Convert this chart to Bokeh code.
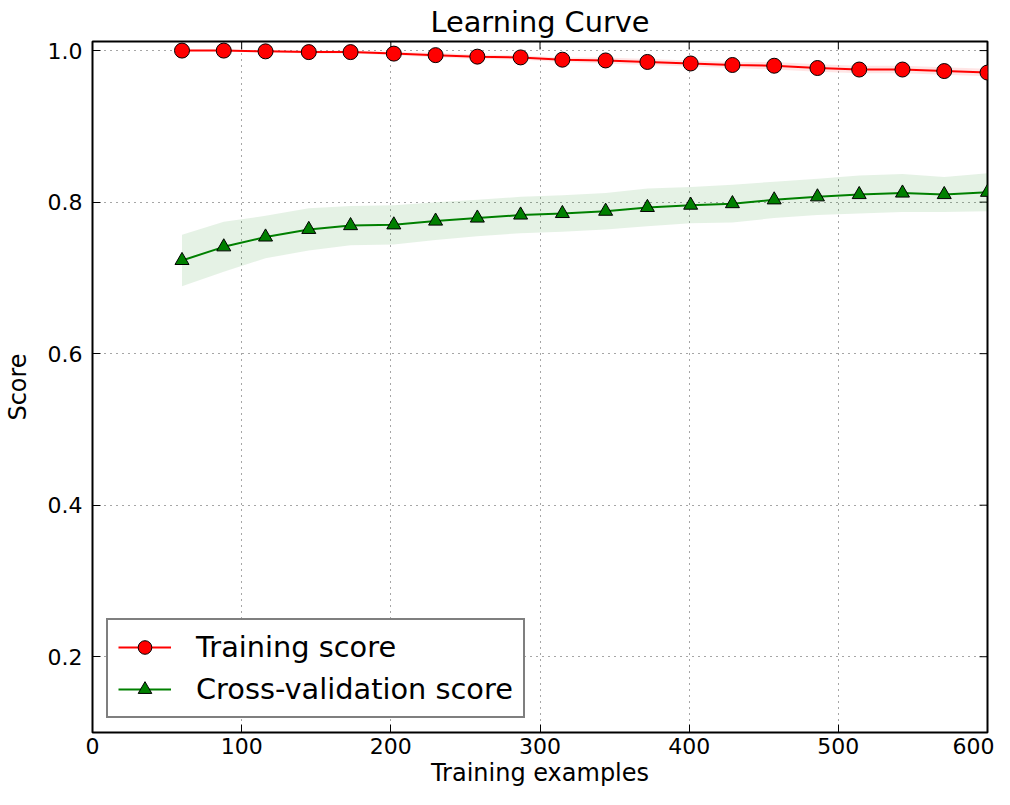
import math
from bokeh.plotting import figure
from bokeh.models import (Range1d, FixedTicker, PrintfTickFormatter,
                          Legend, LegendItem, ColumnDataSource)
from bokeh.embed import file_html
from bokeh.resources import INLINE

# ---- data ----
train_sizes = [60, 88, 116, 145, 173, 202, 230, 258, 287, 315,
               344, 372, 401, 429, 457, 486, 514, 543, 571, 600]
train_mean = [1.000, 1.000, 0.999, 0.998, 0.998, 0.996, 0.994, 0.992, 0.991, 0.988,
              0.987, 0.985, 0.983, 0.981, 0.980, 0.977, 0.975, 0.975, 0.973, 0.971]
train_std = [0.001, 0.001, 0.001, 0.002, 0.002, 0.002, 0.003, 0.003, 0.003, 0.003,
             0.004, 0.004, 0.004, 0.004, 0.005, 0.005, 0.005, 0.005, 0.005, 0.005]
test_mean = [0.723, 0.741, 0.754, 0.764, 0.769, 0.770, 0.775, 0.779, 0.783, 0.785,
             0.788, 0.793, 0.796, 0.798, 0.803, 0.807, 0.810, 0.812, 0.810, 0.813]
test_std = [0.034, 0.033, 0.028, 0.028, 0.026, 0.026, 0.025, 0.024, 0.024, 0.024,
            0.024, 0.025, 0.024, 0.025, 0.024, 0.024, 0.025, 0.025, 0.023, 0.025]
x_ticks = [0, 100, 200, 300, 400, 500, 600]
y_ticks = [0.2, 0.4, 0.6, 0.8, 1.0]
x_lim = (0, 600)
y_lim = (0.1, 1.012)

FONT = "DejaVu Sans"
RED = "#ff0000"
GREEN = "#008000"

src = ColumnDataSource(dict(
    x=train_sizes,
    tr=train_mean,
    tr_lo=[m - s for m, s in zip(train_mean, train_std)],
    tr_hi=[m + s for m, s in zip(train_mean, train_std)],
    te=test_mean,
    te_lo=[m - s for m, s in zip(test_mean, test_std)],
    te_hi=[m + s for m, s in zip(test_mean, test_std)],
))

p = figure(width=994, height=789, output_backend="svg", toolbar_location=None,
           x_range=Range1d(*x_lim), y_range=Range1d(*y_lim),
           min_border_left=85, min_border_right=7, min_border_top=33,
           min_border_bottom=53, title="Learning Curve")

p.title.text_font = FONT
p.title.text_font_size = "28.8px"
p.title.text_font_style = "normal"
p.title.text_color = "black"
p.title.align = "center"
p.title.standoff = 5

p.outline_line_color = "black"
p.outline_line_width = 2
p.background_fill_color = "white"
p.border_fill_color = "white"

# grid
for g in (p.xgrid, p.ygrid):
    g.grid_line_color = "black"
    g.grid_line_alpha = 0.7
    g.grid_line_dash = "1 5"
    g.grid_line_width = 1
p.xgrid.ticker = FixedTicker(ticks=x_ticks)
p.ygrid.ticker = FixedTicker(ticks=y_ticks)

def style_axis(ax, ticks, fmt):
    ax.ticker = FixedTicker(ticks=ticks)
    ax.axis_line_color = None
    ax.major_tick_in = 8
    ax.major_tick_out = 0
    ax.major_tick_line_color = "black"
    ax.major_tick_line_width = 1
    ax.minor_tick_line_color = None
    ax.formatter = PrintfTickFormatter(format=fmt)
    ax.major_label_text_font = FONT
    ax.major_label_text_font_size = "22px"
    ax.major_label_text_color = "black"
    ax.axis_label_text_font = FONT
    ax.axis_label_text_font_size = "24px"
    ax.axis_label_text_font_style = "normal"
    ax.axis_label_text_color = "black"

style_axis(p.xaxis[0], x_ticks, "%d")
style_axis(p.yaxis[0], y_ticks, "%.1f")
p.xaxis[0].axis_label = "Training examples"
p.yaxis[0].axis_label = "Score"
p.xaxis[0].major_label_standoff = 5
p.xaxis[0].axis_label_standoff = 2
p.yaxis[0].major_label_standoff = 10
p.yaxis[0].axis_label_standoff = 13

# mirrored inward ticks on the right and top edges
p.ray(x=[x_lim[1]] * len(y_ticks), y=y_ticks, length=8, length_units="screen",
      angle=math.pi, line_color="black", line_width=1)
p.ray(x=x_ticks, y=[y_lim[1]] * len(x_ticks), length=8, length_units="screen",
      angle=-math.pi / 2, line_color="black", line_width=1)

# bands
p.varea(x="x", y1="tr_lo", y2="tr_hi", source=src, fill_color=RED, fill_alpha=0.1)
p.varea(x="x", y1="te_lo", y2="te_hi", source=src, fill_color=GREEN, fill_alpha=0.1)

# lines and markers
l_tr = p.line(x="x", y="tr", source=src, line_color=RED, line_width=2)
s_tr = p.scatter(x="x", y="tr", source=src, marker="circle", size=15,
                 fill_color=RED, line_color="black", line_width=1)
l_te = p.line(x="x", y="te", source=src, line_color=GREEN, line_width=2)
s_te = p.scatter(x="x", y="te", source=src, marker="triangle", size=14,
                 fill_color=GREEN, line_color="black", line_width=1)

legend = Legend(items=[
    LegendItem(label="Training score", renderers=[l_tr, s_tr]),
    LegendItem(label="Cross-validation score", renderers=[l_te, s_te]),
], location="bottom_left")
legend.margin = 14
legend.padding = 10
legend.spacing = 8
legend.glyph_width = 53
legend.glyph_height = 34
legend.label_height = 34
legend.label_standoff = 25
legend.label_text_font = FONT
legend.label_text_font_size = "28.8px"
legend.label_text_color = "black"
legend.border_line_color = "black"
legend.border_line_width = 2
legend.background_fill_color = "white"
legend.background_fill_alpha = 1
p.add_layout(legend, "center")

open("out.html", "w").write(file_html(p, INLINE))
